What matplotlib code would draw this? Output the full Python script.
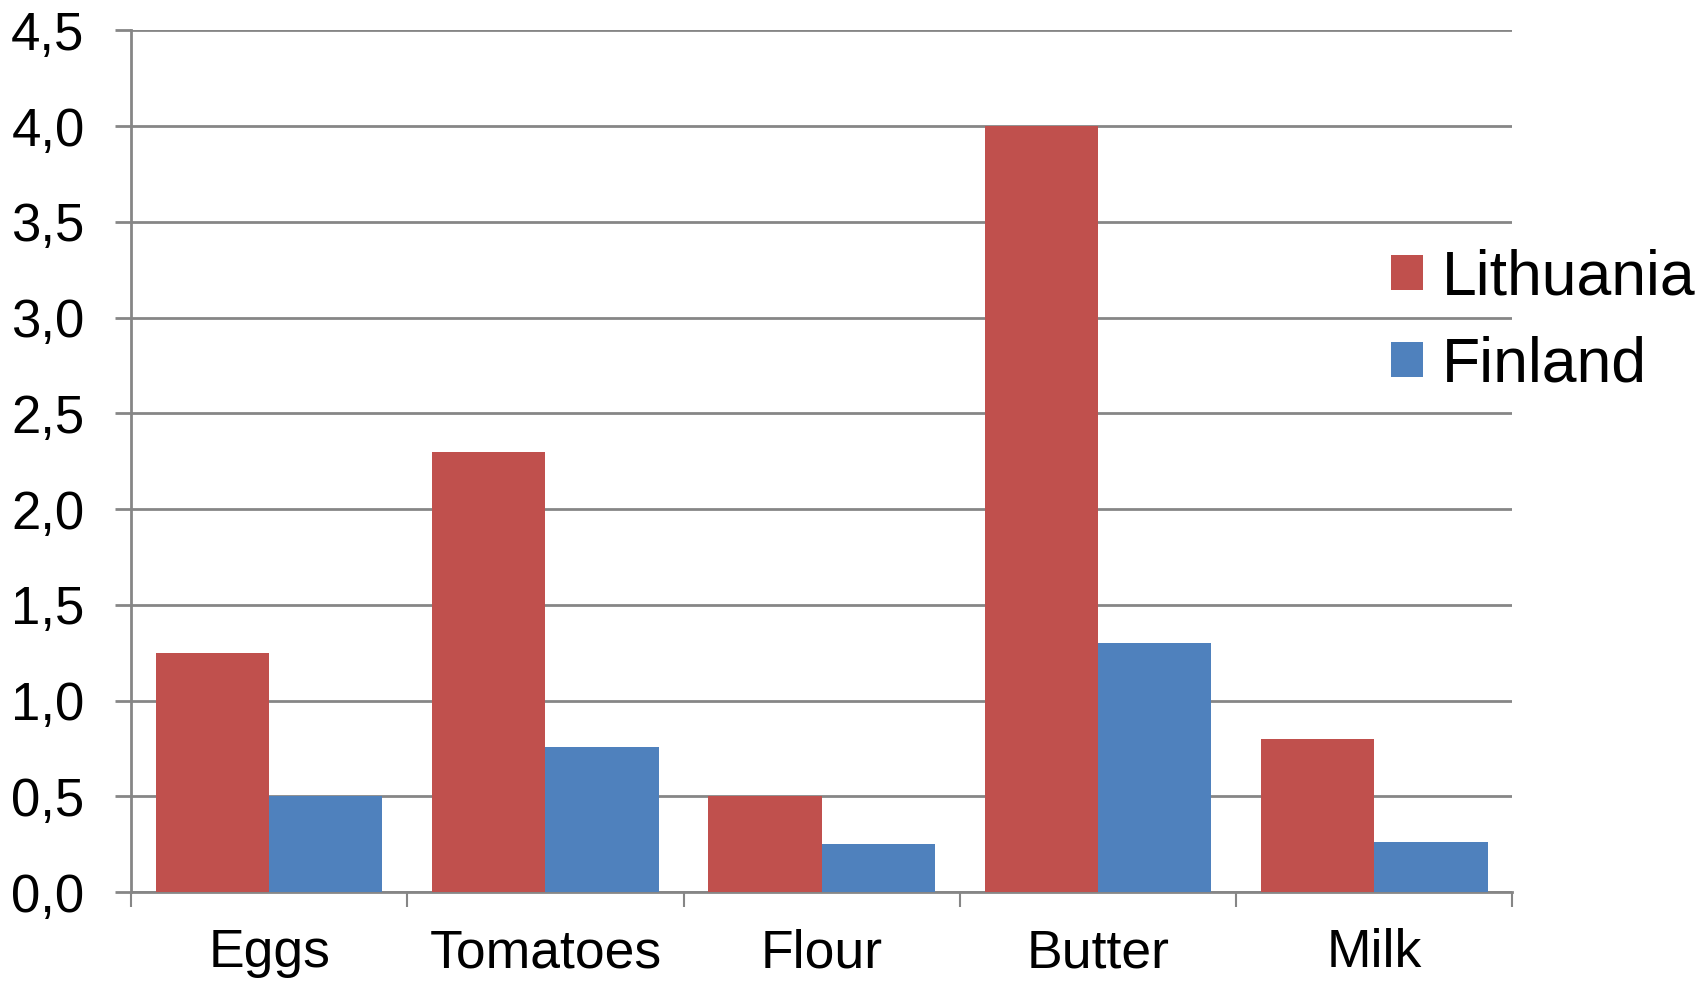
import matplotlib
matplotlib.use("Agg")
import matplotlib.pyplot as plt
import numpy as np
from matplotlib.patches import Patch

categories = ["Eggs", "Tomatoes", "Flour", "Butter", "Milk"]
lithuania = [1.25, 2.30, 0.50, 4.00, 0.80]
finland = [0.50, 0.76, 0.25, 1.30, 0.26]
series_names = ["Lithuania", "Finland"]
y_ticks = [0.0, 0.5, 1.0, 1.5, 2.0, 2.5, 3.0, 3.5, 4.0, 4.5]

RED = "#C0504D"
BLUE = "#4F81BD"
GRID = "#868686"

plt.rcParams['font.family'] = ['Liberation Sans', 'DejaVu Sans']

fig = plt.figure(figsize=(17.07, 9.81), dpi=100)
ax = fig.add_axes([0.0768, 0.0907, 0.886 - 0.0768, 0.969 - 0.0907])

x = np.arange(len(categories))
w = 0.41
ax.bar(x - w / 2, lithuania, width=w, color=RED, edgecolor="none", zorder=3)
ax.bar(x + w / 2, finland, width=w, color=BLUE, edgecolor="none", zorder=3)

ax.set_xlim(-0.5, len(categories) - 0.5)
ax.set_ylim(0, 4.5)
ax.set_yticks(y_ticks)
ax.set_yticklabels([f"{v:.1f}".replace(".", ",") for v in y_ticks])
ax.yaxis.grid(True, color=GRID, linewidth=2, zorder=0)

ax.set_xticks(np.arange(len(categories) + 1) - 0.5)
ax.set_xticklabels([])
ax.set_xticks(x, minor=True)
ax.set_xticklabels(categories, minor=True)
ax.tick_params(axis="x", which="minor", length=0, pad=26, labelsize=38.5)
ax.tick_params(axis="x", which="major", length=10.5, width=1.5, color=GRID, direction="out")
ax.tick_params(axis="y", length=11.5, width=2, color=GRID, pad=22, labelsize=38)

for s in ["top", "right"]:
    ax.spines[s].set_visible(False)
for s in ["left", "bottom"]:
    ax.spines[s].set_color(GRID)
    ax.spines[s].set_linewidth(2)
ax.set_axisbelow(True)

handles = [Patch(facecolor=RED, edgecolor="none"), Patch(facecolor=BLUE, edgecolor="none")]
fig.legend(handles, series_names, loc="center left", bbox_to_anchor=(0.8005, 0.672),
           frameon=False, fontsize=45, handlelength=0.5, handleheight=0.5,
           handletextpad=0.3, labelspacing=0.45, borderaxespad=0)

fig.savefig("out.png", dpi=100)
